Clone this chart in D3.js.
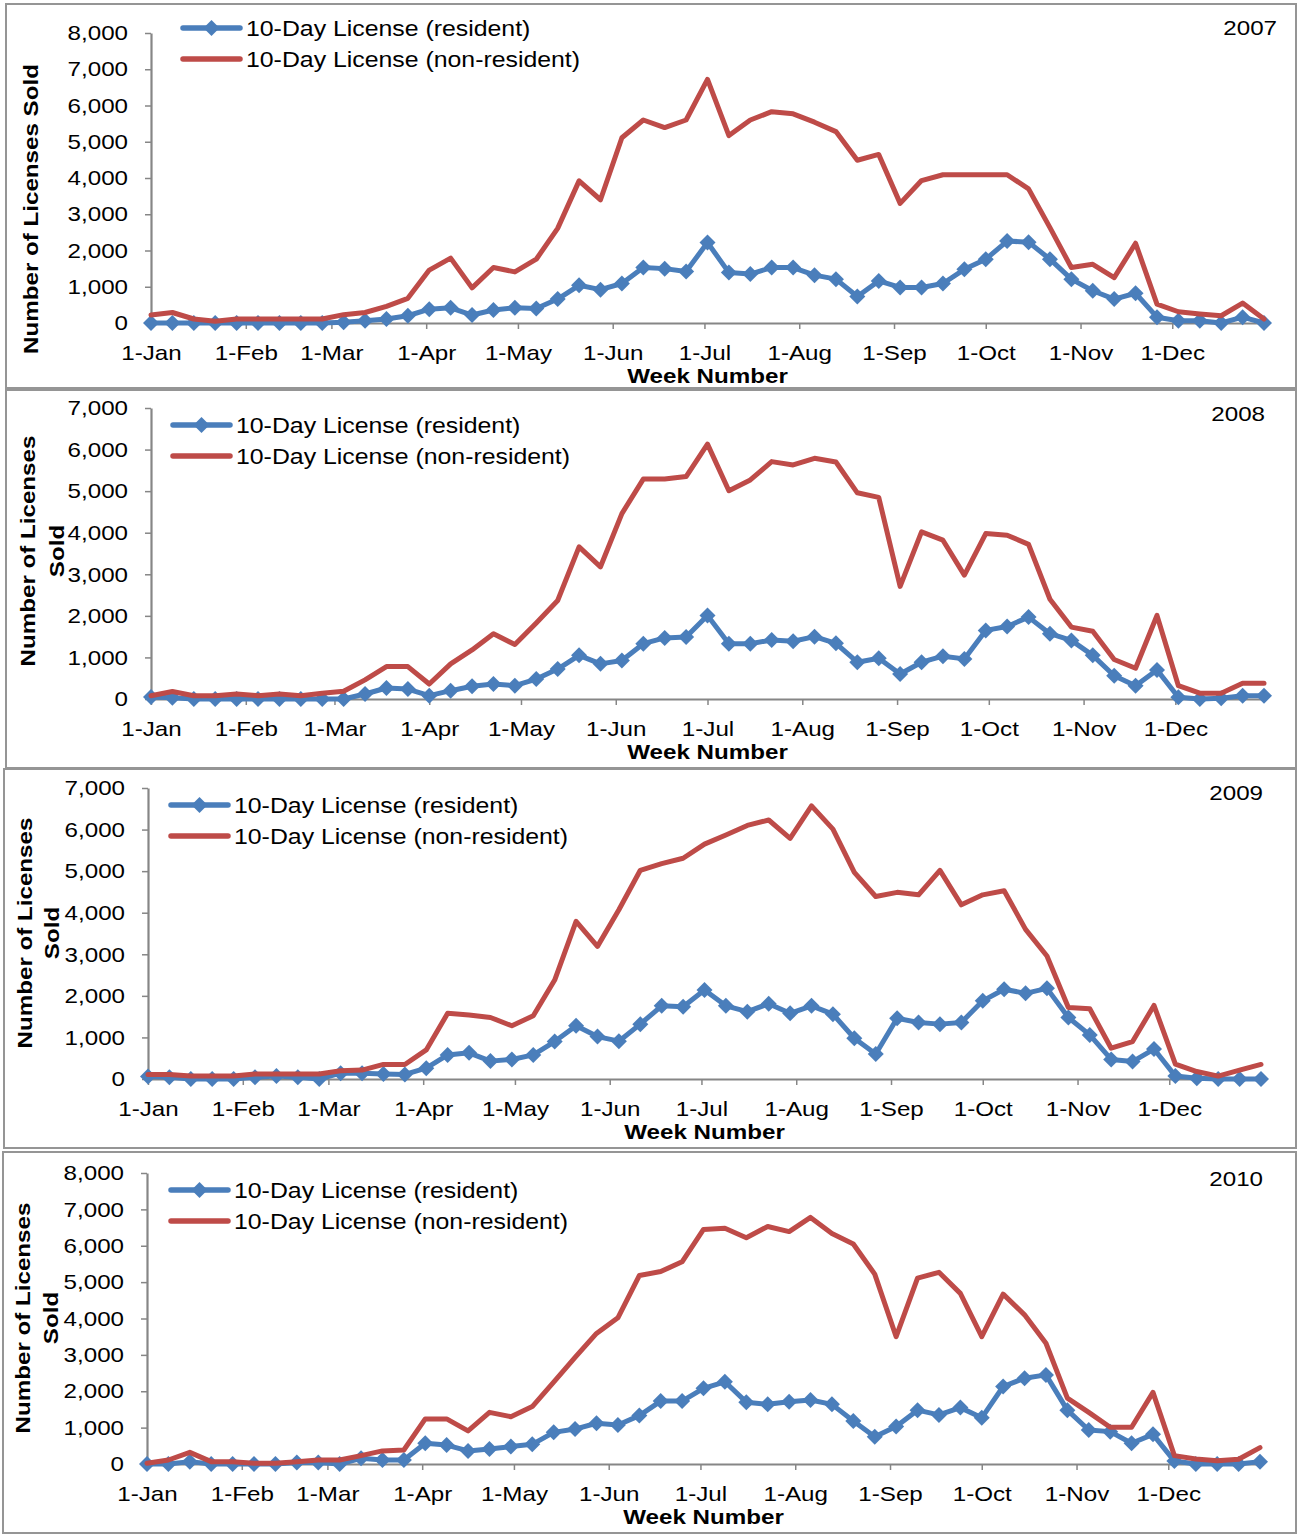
<!DOCTYPE html>
<html><head><meta charset="utf-8">
<script src="https://cdn.jsdelivr.net/npm/d3@7"></script>
<style>
body{margin:0;background:#fff}
text{font-family:"Liberation Sans",Arial,sans-serif;fill:#000}
</style>
</head><body>
<svg id="chart" width="1297" height="1535"></svg>
<script>
const years = [2007, 2008, 2009, 2010];
const seriesNames = ["10-Day License (resident)", "10-Day License (non-resident)"];
const yAxisMax = [8000, 7000, 7000, 8000];
const yTitleLines = [["Number of Licenses Sold"], ["Number of Licenses", "Sold"], ["Number of Licenses", "Sold"], ["Number of Licenses", "Sold"]];
const xTitle = "Week Number";

const resident2007 = [0,0,0,0,0,0,0,0,0,20,60,110,200,380,420,220,360,420,400,660,1040,920,1090,1530,1500,1420,2220,1390,1350,1530,1530,1320,1210,730,1160,980,980,1090,1480,1760,2260,2230,1760,1210,890,660,820,160,60,60,0,160,0];
const nonResident2007 = [220,290,110,50,110,110,110,110,110,230,290,460,680,1460,1790,970,1530,1410,1760,2610,3920,3400,5110,5600,5390,5600,6720,5170,5600,5830,5770,5540,5280,4490,4650,3300,3930,4090,4090,4090,4090,3700,2630,1530,1620,1250,2200,520,310,250,200,550,110];

const resident2008 = [50,30,0,0,0,0,0,0,0,0,120,265,240,80,200,305,360,320,480,720,1050,845,925,1330,1470,1490,2010,1330,1330,1420,1390,1500,1340,885,980,600,885,1030,965,1650,1745,1970,1570,1410,1050,560,320,700,40,0,20,80,80];
const nonResident2008 = [80,180,80,80,120,80,120,80,140,185,460,780,780,360,845,1180,1570,1310,1830,2370,3660,3180,4460,5290,5290,5350,6130,5010,5270,5710,5630,5790,5700,4960,4850,2710,4020,3820,2980,3980,3940,3720,2400,1730,1630,950,740,2010,320,140,140,380,380];

const resident2009 = [60,40,0,0,0,40,70,40,0,140,140,120,110,260,580,630,430,470,580,900,1280,1020,910,1320,1760,1740,2140,1760,1620,1810,1580,1760,1560,980,600,1460,1360,1320,1360,1880,2160,2060,2180,1480,1060,470,420,720,70,20,0,0,0];
const nonResident2009 = [110,110,70,70,70,120,120,120,120,200,215,350,350,700,1580,1540,1480,1280,1520,2380,3790,3190,4070,5020,5180,5310,5650,5870,6100,6230,5790,6570,6010,4970,4390,4490,4430,5020,4190,4430,4530,3600,2960,1720,1690,740,900,1770,360,180,70,215,350];

const resident2010 = [0,0,65,0,0,0,0,40,40,0,155,110,110,570,520,360,410,480,540,870,960,1120,1070,1330,1730,1730,2080,2260,1700,1640,1710,1760,1640,1180,750,1030,1480,1350,1550,1270,2130,2360,2450,1480,935,890,570,815,80,0,0,0,65];
const nonResident2010 = [20,110,320,65,65,20,20,65,110,110,230,360,385,1240,1240,910,1420,1300,1580,2250,2930,3590,4020,5180,5290,5560,6450,6480,6220,6530,6390,6780,6340,6050,5220,3500,5110,5270,4690,3500,4670,4100,3320,1810,1420,1010,1010,1970,230,140,90,130,450];

const residentByYear = [resident2007, resident2008, resident2009, resident2010];
const nonResidentByYear = [nonResident2007, nonResident2008, nonResident2009, nonResident2010];

// ---- layout (positions / sizes) ----
const layout = [
  {box:[6,4,1290,384],   x0:151, yTop:33,   yBot:323,  legX:183, legY:28,   yearX:1277, yearY:28,   titlePos:[[31,209]]},
  {box:[6,390,1290,378], x0:151, yTop:408,  yBot:699,  legX:173, legY:425,  yearX:1265, yearY:414,  titlePos:[[28,551],[57,551]]},
  {box:[4,769,1292,379], x0:148, yTop:788,  yBot:1079, legX:171, legY:805,  yearX:1263, yearY:793,  titlePos:[[25,933],[52,933]]},
  {box:[3,1152,1293,381],x0:147, yTop:1173, yBot:1464, legX:171, legY:1190, yearX:1263, yearY:1179, titlePos:[[23,1318],[51,1318]]}
];
const PLOT_W = 1113;
const FS = 21;
const LEG_FS = 21.6;
const STRETCH = 1.15;
const LINE_W = 5;
const BLUE = "#4A7EBB", RED = "#BE4B48", AXIS = "#868686", BORDER = "#959595";
const diamond = "M0,-8L8,0L0,8L-8,0Z";

const svg = d3.select("#chart");
svg.append("rect").attr("width",1297).attr("height",1535).attr("fill","#fff");

years.forEach((year, p) => {
  const L = layout[p];
  const g = svg.append("g");
  g.append("rect").attr("x",L.box[0]).attr("y",L.box[1]).attr("width",L.box[2]).attr("height",L.box[3])
    .attr("fill","#fff").attr("stroke",BORDER).attr("stroke-width",2);

  const start = new Date(year,0,1);
  const weekDate = i => d3.timeDay.offset(start, 7*i);
  const x = d3.scaleTime().domain([start, d3.timeDay.offset(start,364)]).range([L.x0, L.x0+PLOT_W]);
  const y = d3.scaleLinear().domain([0, yAxisMax[p]]).range([L.yBot, L.yTop]);

  // y axis
  const ya = g.append("g").attr("transform",`translate(${L.x0},0)`)
    .call(d3.axisLeft(y).tickValues(d3.range(0, yAxisMax[p]+1, 1000)).tickFormat(d3.format(","))
      .tickSize(6).tickSizeOuter(0).tickPadding(17));
  ya.select(".domain").attr("stroke",AXIS).attr("stroke-width",2.2);
  ya.selectAll(".tick line").attr("stroke",AXIS).attr("stroke-width",1.5);
  ya.selectAll("text").attr("font-size",FS).attr("fill","#000").attr("font-family",null);

  // x axis
  const xa = g.append("g").attr("transform",`translate(0,${L.yBot})`)
    .call(d3.axisBottom(x).ticks(d3.timeMonth.every(1)).tickFormat(d3.timeFormat("%-d-%b"))
      .tickSize(6).tickSizeOuter(0));
  xa.select(".domain").attr("stroke",AXIS).attr("stroke-width",2.2);
  xa.selectAll(".tick line").attr("stroke",AXIS).attr("stroke-width",1.5);
  xa.selectAll("text").attr("font-size",FS).attr("fill","#000").attr("font-family",null)
    .attr("y",30).attr("dy","0.35em");

  // x title
  g.append("text").attr("x", L.x0+PLOT_W/2).attr("y", L.yBot+53).attr("dy","0.35em")
    .attr("text-anchor","middle").attr("font-size",FS).attr("font-weight","bold").text(xTitle);

  // y title
  yTitleLines[p].forEach((t, k) => {
    const [tx, ty] = L.titlePos[k];
    g.append("text").attr("transform",`translate(${tx},${ty}) rotate(-90)`).attr("dy","0.35em")
      .attr("text-anchor","middle").attr("font-size",FS).attr("font-weight","bold").text(t);
  });

  // year label
  g.append("text").attr("x",L.yearX).attr("y",L.yearY).attr("dy","0.35em").attr("text-anchor","end")
    .attr("font-size",FS).text(year);

  // series
  const line = d3.line().x((d,i)=>x(weekDate(i))).y(d=>y(d));
  g.append("path").datum(residentByYear[p]).attr("d",line).attr("fill","none")
    .attr("stroke",BLUE).attr("stroke-width",LINE_W).attr("stroke-linejoin","round").attr("stroke-linecap","round");
  g.selectAll(".mk").data(residentByYear[p]).join("path").attr("class","mk").attr("d",diamond)
    .attr("transform",(d,i)=>`translate(${x(weekDate(i))},${y(d)})`).attr("fill",BLUE);
  g.append("path").datum(nonResidentByYear[p]).attr("d",line).attr("fill","none")
    .attr("stroke",RED).attr("stroke-width",LINE_W).attr("stroke-linejoin","round").attr("stroke-linecap","round");

  // legend
  const lg = g.append("g");
  [0,1].forEach(k => {
    const ly = L.legY + k*31;
    lg.append("line").attr("x1",L.legX).attr("x2",L.legX+57).attr("y1",ly).attr("y2",ly)
      .attr("stroke",k===0?BLUE:RED).attr("stroke-width",5.5).attr("stroke-linecap","round");
    if (k===0) lg.append("path").attr("d",diamond).attr("transform",`translate(${L.legX+28.5},${ly})`).attr("fill",BLUE);
    lg.append("text").attr("x",L.legX+63).attr("y",ly).attr("dy","0.35em").attr("font-size",LEG_FS).text(seriesNames[k]);
  });
});

// widen glyphs slightly to match reference text widths
svg.selectAll("text").each(function(){
  const w = this.getComputedTextLength();
  d3.select(this).attr("textLength", w*STRETCH).attr("lengthAdjust","spacingAndGlyphs");
});
</script>
</body></html>
